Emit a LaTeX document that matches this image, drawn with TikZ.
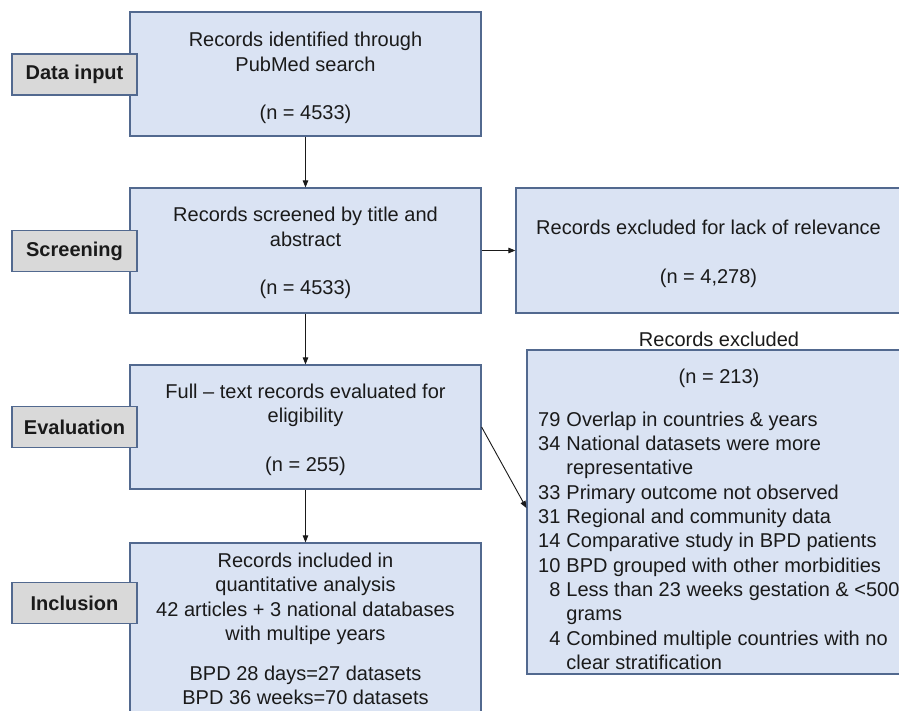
\documentclass[tikz,border=0pt]{standalone}
\usepackage{fontspec}
\setmainfont{Liberation Sans}
\usetikzlibrary{arrows.meta}
\definecolor{boxfill}{HTML}{DAE3F3}
\definecolor{boxline}{HTML}{52698F}
\definecolor{labfill}{HTML}{D9D9D9}
\definecolor{txt}{HTML}{1A1A1A}
\begin{document}
\begin{tikzpicture}[x=1pt,y=-1pt,
  box/.style={draw=boxline, fill=boxfill, line width=1.2pt, inner sep=0pt},
  plain/.style={inner sep=0pt, align=center, text=txt, font=\fontsize{20}{24.5}\selectfont},
  lab/.style={draw=boxline, fill=labfill, line width=1.2pt, minimum width=125pt, minimum height=41pt,
    inner sep=0pt, text=txt, font=\fontsize{20}{24}\selectfont\bfseries},
  arr/.style={-{Triangle[length=7pt,width=5.5pt]}, line width=0.9pt, draw=txt}]
\useasboundingbox (0,0) rectangle (899,711);
\clip (0,0) rectangle (899,711);
\fill[white] (0,0) rectangle (899,711);

% main column boxes
\node[box, minimum width=351pt, minimum height=124pt] (b1) at (305.5,74) {};
\node[box, minimum width=351pt, minimum height=125pt] (b2) at (305.5,250.5) {};
\node[box, minimum width=351pt, minimum height=124pt] (b3) at (305.5,427) {};
\node[box, minimum width=351pt, minimum height=172pt] (b4) at (305.5,629) {};
\node[plain] (t1) at (305.5,78) {Records identified through\\PubMed search\\[24pt](n = 4533)};
\node[plain] (t2) at (305.5,253) {Records screened by title and\\abstract\\[24pt](n = 4533)};
\node[plain] (t3) at (305.5,429.5) {Full -- text records evaluated for\\eligibility\\[24pt](n = 255)};
\node[plain] (t4) at (305.5,629) {Records included in\\quantitative analysis\\42 articles + 3 national databases\\with multipe years\\[15pt]
   BPD 28 days=27 datasets\\BPD 36 weeks=70 datasets};

% stage labels
\node[lab] (l1) at (74.5,74.5) {\raisebox{-1pt}{Data input}};
\node[lab] (l2) at (74.5,251) {\raisebox{-1pt}{Screening}};
\node[lab] (l3) at (74.5,427) {\raisebox{-1pt}{Evaluation}};
\node[lab] (l4) at (74.5,603) {\raisebox{-1pt}{Inclusion}};

% right column
\node[box, minimum width=385pt, minimum height=125pt] (r1) at (708.5,250.5) {};
\node[plain] (tr1) at (708.5,254) {Records excluded for lack of relevance\\[24pt](n = 4,278)};
\node[plain] (r2lab) at (719,339) {Records excluded};
\node[box, minimum width=384pt, minimum height=324pt] (r2) at (719,512) {};
\node[plain] (r2n) at (719,378) {(n = 213)};
\node[plain, anchor=west] (r2list) at (538,543)
  {\fontsize{20}{24.3}\selectfont
   \begin{tabular}{@{}r@{\hspace{6pt}}l@{}}
   79 & Overlap in countries \& years\\
   34 & National datasets were more\\
      & representative\\
   33 & Primary outcome not observed\\
   31 & Regional and community data\\
   14 & Comparative study in BPD patients\\
   10 & BPD grouped with other morbidities\\
   8 & Less than 23 weeks gestation \& <500\\
     & grams\\
   4 & Combined multiple countries with no\\
     & clear stratification
   \end{tabular}};

% connectors
\draw[arr] (b1.south) -- (b2.north);
\draw[arr] (b2.south) -- (b3.north);
\draw[arr] (b3.south) -- (b4.north);
\draw[arr] (b2.east) -- (r1.west);
\draw[arr] (b3.east) -- ([yshift=4pt]r2.west);
\end{tikzpicture}
\end{document}
